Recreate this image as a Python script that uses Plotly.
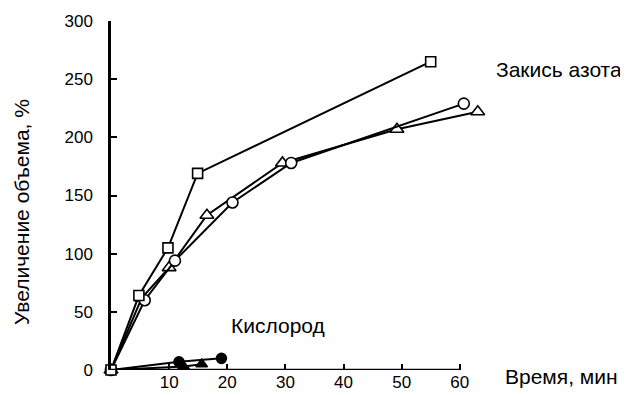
import plotly.graph_objects as go

# Data
sq_x = [0, 4.8, 9.8, 14.9, 55]
sq_y = [0, 64, 105, 169, 265]
ci_x = [0, 5.8, 11, 20.9, 31, 60.7]
ci_y = [0, 60, 94, 144, 178, 229]
tr_x = [0, 5.3, 10, 16.5, 29.5, 49.2, 63.1]
tr_y = [0, 62, 88, 133, 178, 207, 222]
o2c_x = [0, 11.7, 19]
o2c_y = [0, 7, 10]
o2t_x = [0, 12.5, 15.6]
o2t_y = [0, 3, 5]

x_ticks = [10, 20, 30, 40, 50, 60]
y_ticks = [0, 50, 100, 150, 200, 250, 300]

FONT = "Liberation Sans, Arial, sans-serif"
fig = go.Figure()

def add(x, y, symbol, size, fill):
    fig.add_trace(go.Scatter(
        x=x, y=y, mode="lines+markers",
        line=dict(color="black", width=2),
        marker=dict(symbol=symbol, size=size, color=fill,
                    line=dict(color="black", width=1.6)),
        cliponaxis=False, showlegend=False))

add(o2t_x, o2t_y, "triangle-up", 10, "black")
add(o2c_x, o2c_y, "circle", 10, "black")
add(tr_x, tr_y, "triangle-up", 12, "white")
add(ci_x, ci_y, "circle", 11, "white")
add(sq_x, sq_y, "square", 10, "white")

# x axis line drawn only from 0 to 60
fig.add_shape(type="line", xref="x", yref="y", x0=0, x1=60, y0=0, y1=0,
              line=dict(color="black", width=2.5), layer="above")

# page body has an 8px margin, so the figure is sized 8px smaller
fig.update_layout(
    width=620, height=387,
    margin=dict(l=103, r=145, t=13, b=25, autoexpand=False),
    paper_bgcolor="white", plot_bgcolor="white",
    font=dict(family=FONT, size=17, color="black"),
    xaxis=dict(range=[0, 64], tickvals=x_ticks, ticks="inside", ticklen=6,
               tickwidth=2, tickcolor="black", showline=False,
               showgrid=False, zeroline=False, tickfont=dict(size=17)),
    yaxis=dict(range=[0, 300], tickvals=y_ticks, ticks="inside", ticklen=6,
               tickwidth=2, tickcolor="black", showline=True, linewidth=2.5,
               linecolor="black", showgrid=False, zeroline=False,
               ticklabelstandoff=12, tickfont=dict(size=17)),
    annotations=[
        dict(x=1.204, y=0.86, xref="paper", yref="paper", text="Закись азота",
             xanchor="center", yanchor="middle",
             showarrow=False, font=dict(size=21)),
        dict(x=1.212, y=-0.02, xref="paper", yref="paper", text="Время, мин",
             xanchor="center", yanchor="middle",
             showarrow=False, font=dict(size=21)),
        dict(x=28.7, y=38, xref="x", yref="y", text="Кислород",
             xanchor="center", yanchor="middle",
             showarrow=False, font=dict(size=21)),
        dict(x=-0.239, y=136, xref="paper", yref="y",
             text="Увеличение объема, %", textangle=-90,
             xanchor="center", yanchor="middle",
             showarrow=False, font=dict(size=21)),
    ],
)

fig.write_html("out.html")
